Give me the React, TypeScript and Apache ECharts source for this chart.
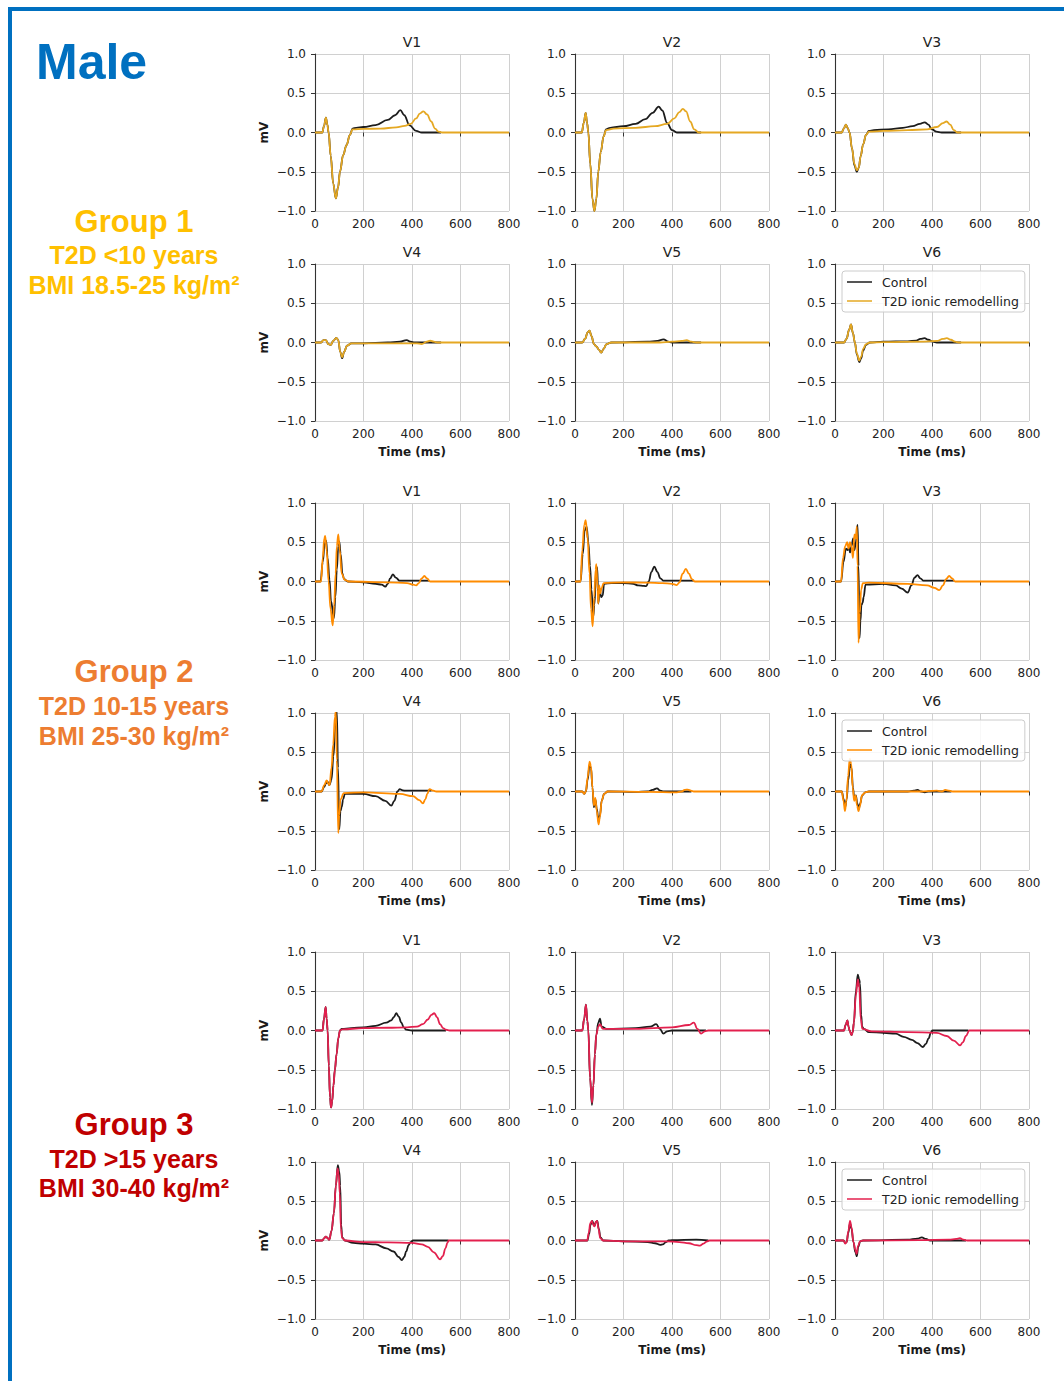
import React, { useEffect, useRef } from "react";
import * as echarts from "echarts";

// ---------- DATA ----------
const LEADS = ["V1", "V2", "V3", "V4", "V5", "V6"];
const SERIES_NAMES = ["Control", "T2D ionic remodelling"];
const GROUP_TITLES = ["Group 1", "Group 2", "Group 3"];
const GROUP_DURATIONS = ["T2D <10 years", "T2D 10-15 years", "T2D >15 years"];
const GROUP_BMI = ["BMI 18.5-25 kg/m²", "BMI 25-30 kg/m²", "BMI 30-40 kg/m²"];
const X_TICKS = [0, 200, 400, 600, 800];
const Y_TICKS = [-1.0, -0.5, 0.0, 0.5, 1.0];

// Group 1
const g1V1Ctrl = [[0,0],[30,0],[37,0.08],[45,0.19],[51,0.1],[56,0],[65,-0.3],[75,-0.65],[86,-0.84],[95,-0.7],[103,-0.5],[116,-0.29],[130,-0.16],[144,-0.03],[155,0.05],[170,0.06],[200,0.07],[250,0.094],[300,0.16],[330,0.22],[352,0.285],[368,0.22],[390,0.09],[417,0.02],[440,0],[520,0]];
const g1V1T2d = [[0,0],[30,0],[37,0.08],[45,0.19],[51,0.1],[56,0],[65,-0.3],[75,-0.65],[86,-0.84],[95,-0.7],[103,-0.5],[116,-0.29],[130,-0.16],[144,-0.03],[155,0.04],[200,0.045],[270,0.05],[335,0.065],[370,0.085],[395,0.11],[417,0.18],[432,0.24],[447,0.27],[462,0.23],[479,0.14],[495,0.05],[510,0.01],[525,0],[800,0]];
const g1V2Ctrl = [[0,0],[28,0],[36,0.12],[44,0.25],[50,0.12],[55,0],[63,-0.4],[72,-0.85],[80,-1.0],[88,-0.85],[96,-0.5],[106,-0.25],[118,-0.05],[128,0.04],[145,0.06],[200,0.08],[250,0.11],[290,0.17],[320,0.25],[345,0.33],[360,0.28],[380,0.12],[400,0.03],[420,0],[520,0]];
const g1V2T2d = [[0,0],[28,0],[36,0.12],[44,0.25],[50,0.12],[55,0],[63,-0.4],[72,-0.85],[80,-1.0],[88,-0.85],[96,-0.5],[106,-0.25],[118,-0.05],[128,0.03],[160,0.05],[250,0.06],[330,0.08],[380,0.11],[410,0.18],[430,0.26],[445,0.3],[458,0.27],[475,0.14],[492,0.04],[510,0],[800,0]];
const g1V3Ctrl = [[0,0],[28,0],[36,0.05],[45,0.1],[52,0.06],[60,0],[70,-0.2],[80,-0.42],[90,-0.5],[98,-0.45],[106,-0.3],[116,-0.15],[128,-0.03],[140,0.02],[160,0.03],[220,0.04],[280,0.06],[320,0.08],[350,0.11],[370,0.13],[385,0.1],[400,0.04],[418,0.01],[440,0],[520,0]];
const g1V3T2d = [[0,0],[28,0],[36,0.05],[45,0.1],[52,0.06],[60,0],[70,-0.2],[80,-0.4],[90,-0.48],[98,-0.45],[106,-0.3],[116,-0.15],[128,-0.03],[140,0.01],[200,0.02],[300,0.03],[380,0.04],[420,0.07],[445,0.12],[460,0.14],[475,0.1],[490,0.03],[505,0],[800,0]];
const g1V4Ctrl = [[0,0],[25,0],[35,0.03],[45,0.03],[55,-0.02],[65,-0.03],[75,0.02],[88,0.06],[96,0.03],[104,-0.12],[112,-0.2],[120,-0.12],[132,-0.04],[150,-0.01],[200,-0.01],[300,0],[350,0.01],[378,0.03],[395,0.01],[410,0],[520,0]];
const g1V4T2d = [[0,0],[25,0],[35,0.03],[45,0.03],[55,-0.02],[65,-0.03],[75,0.02],[88,0.06],[96,0.03],[104,-0.12],[112,-0.19],[120,-0.12],[132,-0.04],[150,-0.01],[300,-0.01],[420,-0.01],[440,-0.02],[462,0.01],[475,0.025],[490,0.01],[505,0],[800,0]];
const g1V5Ctrl = [[0,0],[30,0],[42,0.05],[52,0.13],[60,0.15],[68,0.08],[78,-0.02],[88,-0.05],[98,-0.09],[108,-0.13],[118,-0.08],[130,-0.02],[150,0],[300,0.01],[340,0.02],[365,0.04],[385,0.01],[400,0],[520,0]];
const g1V5T2d = [[0,0],[30,0],[42,0.05],[52,0.13],[60,0.15],[68,0.08],[78,-0.02],[88,-0.05],[98,-0.09],[108,-0.13],[118,-0.08],[130,-0.02],[150,0],[350,0],[400,0.01],[440,0.02],[460,0.03],[480,0.01],[500,0],[800,0]];
const g1V6Ctrl = [[0,0],[37,0],[48,0.05],[58,0.16],[66,0.23],[74,0.12],[82,0],[90,-0.15],[100,-0.25],[108,-0.2],[116,-0.1],[128,-0.03],[144,0],[200,0.01],[300,0.015],[335,0.025],[352,0.045],[369,0.055],[385,0.035],[404,0.01],[420,0],[520,0]];
const g1V6T2d = [[0,0],[37,0],[48,0.05],[58,0.16],[66,0.23],[74,0.12],[82,0],[90,-0.14],[100,-0.23],[108,-0.18],[116,-0.08],[128,-0.02],[144,0],[200,0.005],[350,0.01],[420,0.02],[445,0.045],[461,0.055],[478,0.035],[495,0.01],[510,0],[800,0]];

// Group 2
const g2V1Ctrl = [[0,0],[23,0],[32,0.25],[40,0.48],[46,0.52],[52,0.3],[60,0.02],[66,-0.25],[78,-0.47],[84,-0.2],[90,0.15],[96,0.45],[100,0.51],[106,0.35],[113,0.1],[120,0.03],[135,0],[200,-0.01],[250,-0.03],[275,-0.04],[290,-0.065],[300,-0.03],[310,0.04],[321,0.09],[333,0.05],[349,0.01],[380,0.01],[470,0.01]];
const g2V1T2d = [[0,0],[25,0],[32,0.3],[38,0.55],[42,0.58],[48,0.4],[56,0.0],[64,-0.35],[73,-0.56],[79,-0.3],[85,0.1],[90,0.45],[96,0.6],[102,0.4],[110,0.1],[123,0.02],[140,0],[300,-0.01],[380,-0.02],[405,-0.04],[417,-0.05],[428,-0.02],[440,0.04],[451,0.07],[462,0.04],[475,0.0],[800,0]];
const g2V2Ctrl = [[0,0],[23,0],[32,0.35],[40,0.65],[48,0.7],[55,0.5],[62,0.2],[68,-0.1],[75,-0.45],[80,-0.3],[86,0.05],[92,0.18],[96,-0.28],[102,-0.1],[108,-0.2],[114,-0.18],[120,-0.03],[150,-0.02],[200,-0.02],[240,-0.03],[260,-0.05],[285,-0.055],[294,-0.06],[304,0.0],[315,0.12],[327,0.19],[340,0.12],[352,0.04],[365,0.01],[490,0.01]];
const g2V2T2d = [[0,0],[23,0],[30,0.4],[38,0.72],[44,0.78],[52,0.55],[60,0.1],[66,-0.35],[73,-0.57],[79,-0.2],[85,0.15],[88,0.22],[93,-0.1],[96,-0.28],[100,-0.05],[104,-0.15],[110,-0.08],[118,-0.02],[200,-0.01],[300,-0.015],[360,-0.02],[400,-0.03],[420,-0.045],[431,-0.01],[444,0.1],[457,0.16],[470,0.1],[482,0.03],[495,0],[800,0]];
const g2V3Ctrl = [[0,0],[25,0],[35,0.25],[45,0.42],[52,0.4],[58,0.43],[62,0.37],[68,0.45],[75,0.55],[80,0.4],[86,0.5],[93,0.72],[97,0.2],[101,-0.72],[105,-0.5],[109,-0.3],[114,-0.27],[118,-0.2],[126,-0.04],[200,-0.03],[250,-0.05],[275,-0.09],[300,-0.14],[315,-0.05],[328,0.05],[340,0.08],[352,0.04],[365,0.01],[490,0.01]];
const g2V3T2d = [[0,0],[25,0],[33,0.3],[42,0.45],[50,0.5],[56,0.42],[62,0.5],[68,0.45],[74,0.3],[80,0.6],[86,0.55],[90,0.7],[93,0.2],[97,-0.78],[102,-0.4],[108,-0.1],[115,-0.02],[140,-0.015],[300,-0.03],[380,-0.05],[410,-0.08],[430,-0.11],[445,-0.05],[458,0.03],[471,0.07],[483,0.04],[495,0],[800,0]];
const g2V4Ctrl = [[0,0],[27,0],[38,0.06],[45,0.1],[51,0.13],[59,0.08],[68,0.15],[76,0.45],[84,0.85],[90,1.02],[95,0.3],[100,-0.48],[105,-0.25],[110,-0.2],[116,-0.1],[123,-0.03],[200,-0.03],[250,-0.06],[290,-0.12],[315,-0.18],[327,-0.12],[340,0.0],[349,0.03],[362,0.015],[376,0.01],[480,0.01]];
const g2V4T2d = [[0,0],[27,0],[38,0.08],[48,0.14],[55,0.1],[60,0.08],[68,0.3],[75,0.6],[82,0.95],[86,1.02],[90,0.4],[96,-0.53],[100,-0.3],[105,-0.1],[119,-0.02],[200,-0.01],[350,-0.03],[404,-0.06],[430,-0.11],[445,-0.15],[455,-0.1],[463,-0.03],[472,0.03],[488,0.01],[500,0],[800,0]];
const g2V5Ctrl = [[0,0],[30,0],[38,-0.03],[45,0.0],[52,0.15],[60,0.33],[66,0.3],[72,0.05],[78,-0.2],[84,-0.1],[90,-0.22],[97,-0.38],[103,-0.3],[110,-0.12],[120,-0.03],[135,0],[250,-0.005],[300,0.0],[320,0.02],[338,0.04],[352,0.01],[365,0],[480,0]];
const g2V5T2d = [[0,0],[30,0],[38,-0.03],[45,0.0],[52,0.18],[60,0.38],[66,0.32],[72,0.05],[78,-0.18],[84,-0.08],[90,-0.25],[97,-0.42],[103,-0.32],[110,-0.12],[120,-0.03],[135,0],[300,-0.005],[420,-0.01],[440,0],[452,0.02],[465,0.025],[478,0.01],[490,0],[800,0]];
const g2V6Ctrl = [[0,0],[28,0],[36,-0.1],[42,-0.2],[48,-0.1],[55,0.15],[62,0.35],[68,0.3],[74,0.05],[80,-0.1],[86,-0.05],[92,-0.15],[98,-0.22],[104,-0.15],[112,-0.05],[125,-0.01],[140,0],[300,0.0],[325,0.01],[340,0.02],[355,0.0],[370,-0.01],[385,0],[480,0]];
const g2V6T2d = [[0,0],[28,0],[35,-0.12],[41,-0.25],[47,-0.12],[54,0.2],[61,0.42],[67,0.35],[73,0.05],[79,-0.12],[85,-0.05],[91,-0.18],[97,-0.25],[103,-0.18],[111,-0.05],[125,-0.01],[140,0],[350,0],[420,0.01],[440,0.0],[455,0.02],[470,0.01],[485,0],[800,0]];

// Group 3
const g3V1Ctrl = [[0,0],[31,0],[37,0.15],[44,0.3],[48,0.15],[52,0],[57,-0.45],[62,-0.85],[66,-0.98],[71,-0.9],[76,-0.7],[82,-0.5],[89,-0.3],[96,-0.1],[103,0.0],[110,0.02],[150,0.03],[200,0.04],[250,0.06],[294,0.1],[315,0.13],[325,0.17],[335,0.22],[345,0.18],[356,0.1],[366,0.04],[376,0.01],[400,0],[540,0]];
const g3V1T2d = [[0,0],[31,0],[37,0.15],[44,0.3],[48,0.15],[52,0],[57,-0.45],[62,-0.85],[66,-0.98],[71,-0.9],[76,-0.7],[82,-0.5],[89,-0.3],[96,-0.1],[103,0.0],[112,0.015],[200,0.03],[300,0.035],[380,0.04],[420,0.05],[445,0.08],[465,0.14],[480,0.2],[492,0.22],[503,0.17],[516,0.08],[528,0.03],[540,0.01],[555,0],[800,0]];
const g3V2Ctrl = [[0,0],[30,0],[38,0.15],[45,0.33],[51,0.12],[55,0.0],[62,-0.6],[70,-0.95],[76,-0.7],[82,-0.3],[88,-0.05],[96,0.1],[103,0.15],[110,0.05],[130,0.02],[250,0.03],[310,0.05],[335,0.08],[350,0.02],[365,-0.04],[380,-0.01],[400,0],[540,0]];
const g3V2T2d = [[0,0],[30,0],[38,0.15],[45,0.33],[51,0.12],[55,0],[62,-0.6],[70,-0.92],[76,-0.7],[82,-0.3],[88,-0.05],[96,0.05],[103,0.08],[115,0.02],[250,0.02],[400,0.04],[470,0.07],[490,0.1],[505,0.02],[520,-0.04],[535,-0.01],[550,0],[800,0]];
const g3V3Ctrl = [[0,0],[37,0],[44,0.07],[51,0.13],[56,0.05],[60,0],[68,-0.06],[73,-0.02],[78,0.1],[86,0.5],[94,0.71],[100,0.65],[103,0.6],[108,0.2],[112,0.05],[119,0.02],[140,-0.02],[200,-0.03],[250,-0.04],[283,-0.08],[317,-0.12],[340,-0.16],[362,-0.21],[375,-0.17],[386,-0.1],[396,-0.02],[402,0],[550,0]];
const g3V3T2d = [[0,0],[37,0],[44,0.07],[51,0.13],[56,0.05],[60,0],[68,-0.06],[73,-0.02],[78,0.1],[86,0.45],[94,0.65],[100,0.55],[106,0.15],[113,0.02],[150,-0.01],[300,-0.02],[420,-0.03],[461,-0.07],[490,-0.13],[516,-0.19],[527,-0.15],[540,-0.07],[554,0],[800,0]];
const g3V4Ctrl = [[0,0],[30,0],[38,0.03],[45,0.05],[52,0.03],[59,0.01],[68,0.12],[78,0.35],[86,0.7],[94,0.96],[100,0.88],[104,0.7],[108,0.2],[112,0.04],[123,0],[157,-0.03],[200,-0.04],[250,-0.05],[294,-0.1],[324,-0.14],[345,-0.21],[358,-0.25],[368,-0.21],[376,-0.14],[386,-0.06],[394,-0.02],[404,0],[550,0]];
const g3V4T2d = [[0,0],[30,0],[38,0.03],[45,0.05],[52,0.03],[59,0.01],[68,0.12],[78,0.35],[86,0.7],[93,0.92],[98,0.85],[102,0.6],[107,0.15],[112,0.03],[125,0],[200,-0.02],[300,-0.025],[400,-0.03],[440,-0.05],[465,-0.08],[490,-0.15],[516,-0.24],[527,-0.2],[538,-0.1],[546,-0.03],[551,0],[800,0]];
const g3V5Ctrl = [[0,0],[51,0],[58,0.08],[64,0.2],[71,0.25],[76,0.22],[81,0.19],[87,0.24],[92,0.25],[98,0.15],[105,0.04],[116,0],[200,-0.01],[300,-0.02],[330,-0.035],[352,-0.055],[362,-0.05],[375,-0.02],[386,0],[400,0.005],[500,0.01],[550,0]];
const g3V5T2d = [[0,0],[50,0],[57,0.1],[63,0.22],[70,0.25],[75,0.2],[80,0.18],[86,0.24],[91,0.25],[97,0.15],[104,0.03],[115,0],[200,-0.01],[380,-0.01],[430,-0.02],[470,-0.035],[500,-0.06],[515,-0.065],[530,-0.04],[545,-0.01],[555,0],[800,0]];
const g3V6Ctrl = [[0,0],[35,0],[42,-0.03],[48,-0.02],[55,0.1],[62,0.22],[68,0.15],[76,-0.02],[84,-0.15],[90,-0.2],[96,-0.08],[104,-0.01],[115,0],[300,0.01],[340,0.025],[358,0.04],[375,0.02],[392,0],[540,0]];
const g3V6T2d = [[0,0],[35,0],[42,-0.04],[48,-0.02],[55,0.12],[62,0.25],[68,0.17],[76,-0.02],[84,-0.12],[89,-0.17],[95,-0.07],[103,-0.01],[115,0],[350,0.005],[470,0.01],[500,0.02],[515,0.03],[530,0.01],[545,0],[800,0]];

const CONTROL_DATA = [
  [g1V1Ctrl, g1V2Ctrl, g1V3Ctrl, g1V4Ctrl, g1V5Ctrl, g1V6Ctrl],
  [g2V1Ctrl, g2V2Ctrl, g2V3Ctrl, g2V4Ctrl, g2V5Ctrl, g2V6Ctrl],
  [g3V1Ctrl, g3V2Ctrl, g3V3Ctrl, g3V4Ctrl, g3V5Ctrl, g3V6Ctrl],
];
const T2D_DATA = [
  [g1V1T2d, g1V2T2d, g1V3T2d, g1V4T2d, g1V5T2d, g1V6T2d],
  [g2V1T2d, g2V2T2d, g2V3T2d, g2V4T2d, g2V5T2d, g2V6T2d],
  [g3V1T2d, g3V2T2d, g3V3T2d, g3V4T2d, g3V5T2d, g3V6T2d],
];

// ---------- STYLE / LAYOUT ----------
const CONTROL_COLOR = "#1c1c1c";
const T2D_COLORS = ["#E5A823", "#FF8C00", "#E3204E"];
const GROUP_TEXT_COLORS = ["#FFC000", "#ED7D31", "#C00000"];
const BLUE = "#0070C0";
const COL_LEFT = [315, 575, 835];
const ROW_TOP = [54, 264, 503, 713, 952, 1162];
const GRID_W = 194;
const GRID_H = 157;
const GROUP_TEXT_Y = [[221, 255, 285], [671, 706, 736], [1124, 1159, 1188]];
const FONT = "'DejaVu Sans', sans-serif";
const BOLD_FONT = "'Liberation Sans', Arial, sans-serif";

function fmtY(v: number) {
  const s = Math.abs(v).toFixed(1);
  return v < 0 ? "\u2212" + s : s;
}

function buildOption() {
  const grid: any[] = [];
  const xAxis: any[] = [];
  const yAxis: any[] = [];
  const series: any[] = [];
  const graphic: any[] = [];
  const legend: any[] = [];

  // frame
  graphic.push({ type: "rect", shape: { x: 8, y: 7, width: 1064, height: 4 }, style: { fill: BLUE }, silent: true });
  graphic.push({ type: "rect", shape: { x: 8, y: 7, width: 4, height: 1381 }, style: { fill: BLUE }, silent: true });
  graphic.push({
    type: "text", x: 36, y: 62,
    style: { text: "Male", fill: BLUE, font: `bold 50px ${BOLD_FONT}`, align: "left", verticalAlign: "middle" },
  });

  for (let g = 0; g < 3; g++) {
    const gy = GROUP_TEXT_Y[g];
    graphic.push({ type: "text", x: 134, y: gy[0], style: { text: GROUP_TITLES[g], fill: GROUP_TEXT_COLORS[g], font: `bold 31px ${BOLD_FONT}`, align: "center", verticalAlign: "middle" } });
    graphic.push({ type: "text", x: 134, y: gy[1], style: { text: GROUP_DURATIONS[g], fill: GROUP_TEXT_COLORS[g], font: `bold 25px ${BOLD_FONT}`, align: "center", verticalAlign: "middle" } });
    graphic.push({ type: "text", x: 134, y: gy[2], style: { text: GROUP_BMI[g], fill: GROUP_TEXT_COLORS[g], font: `bold 25px ${BOLD_FONT}`, align: "center", verticalAlign: "middle" } });

    for (let l = 0; l < 6; l++) {
      const idx = g * 6 + l;
      const row = g * 2 + Math.floor(l / 3);
      const col = l % 3;
      const left = COL_LEFT[col];
      const top = ROW_TOP[row];
      const bottomRow = l >= 3;
      grid.push({ left, top, width: GRID_W, height: GRID_H, containLabel: false });
      xAxis.push({
        gridIndex: idx, type: "value", min: X_TICKS[0], max: X_TICKS[X_TICKS.length - 1], interval: X_TICKS[1] - X_TICKS[0],
        axisLine: { show: false },
        axisTick: { show: true, length: 4, lineStyle: { color: "#333", width: 1 } },
        axisLabel: { fontSize: 12, color: "#222", margin: 7, fontFamily: FONT },
        splitLine: { show: true, lineStyle: { color: "#d0d0d0", width: 1 } },
        name: bottomRow ? "Time (ms)" : "", nameLocation: "middle", nameGap: 25,
        nameTextStyle: { fontWeight: "bold", fontSize: 12, color: "#1a1a1a", fontFamily: FONT },
      });
      yAxis.push({
        gridIndex: idx, type: "value", min: Y_TICKS[0], max: Y_TICKS[Y_TICKS.length - 1], interval: Y_TICKS[1] - Y_TICKS[0],
        axisLine: { show: true, lineStyle: { color: "#333", width: 1.1 } },
        axisTick: { show: true, length: 4, lineStyle: { color: "#333", width: 1 } },
        axisLabel: { fontSize: 12, color: "#222", margin: 9, fontFamily: FONT, formatter: fmtY },
        splitLine: { show: true, lineStyle: { color: "#d0d0d0", width: 1 } },
        name: col === 0 ? "mV" : "", nameLocation: "middle", nameGap: 45, nameRotate: 90,
        nameTextStyle: { fontWeight: "bold", fontSize: 12, color: "#1a1a1a", fontFamily: FONT },
      });
      graphic.push({
        type: "text", x: left + GRID_W / 2, y: top - 12.5,
        style: { text: LEADS[l], fill: "#222", font: `14px ${FONT}`, align: "center", verticalAlign: "middle" },
      });
      series.push({
        type: "line", name: SERIES_NAMES[0], xAxisIndex: idx, yAxisIndex: idx,
        data: CONTROL_DATA[g][l], showSymbol: false, symbol: "none", smooth: 0.4, smoothMonotone: "x",
        lineStyle: { color: CONTROL_COLOR, width: 1.8 }, itemStyle: { color: CONTROL_COLOR },
        silent: true, emphasis: { disabled: true }, z: 2,
      });
      series.push({
        type: "line", name: SERIES_NAMES[1], xAxisIndex: idx, yAxisIndex: idx,
        data: T2D_DATA[g][l], showSymbol: false, symbol: "none", smooth: 0.4, smoothMonotone: "x",
        lineStyle: { color: T2D_COLORS[g], width: 1.8 }, itemStyle: { color: T2D_COLORS[g] },
        silent: true, emphasis: { disabled: true }, z: 3,
      });
    }

    legend.push({
      orient: "vertical", left: 842, top: ROW_TOP[g * 2 + 1] + 7,
      padding: [4, 6, 4, 5], itemGap: 5, itemWidth: 25, itemHeight: 1.5, icon: "rect",
      backgroundColor: "rgba(255,255,255,0.85)", borderColor: "#cccccc", borderWidth: 1, borderRadius: 3,
      selectedMode: false,
      textStyle: { fontSize: 12.5, color: "#222", fontFamily: FONT, lineHeight: 14, padding: [0, 0, 0, 5] },
      data: [
        { name: SERIES_NAMES[0], itemStyle: { color: CONTROL_COLOR } },
        { name: SERIES_NAMES[1], itemStyle: { color: T2D_COLORS[g] } },
      ],
    });
  }

  return {
    animation: false,
    backgroundColor: "#ffffff",
    textStyle: { fontFamily: FONT },
    grid, xAxis, yAxis, series, legend, graphic,
  };
}

export default function App() {
  const ref = useRef<HTMLDivElement>(null);
  useEffect(() => {
    if (!ref.current) return;
    const chart = echarts.init(ref.current, undefined, { renderer: "svg" });
    chart.setOption(buildOption() as any);
    return () => chart.dispose();
  }, []);
  return <div ref={ref} style={{ position: "absolute", left: 0, top: 0, width: 1064, height: 1381 }} />;
}
